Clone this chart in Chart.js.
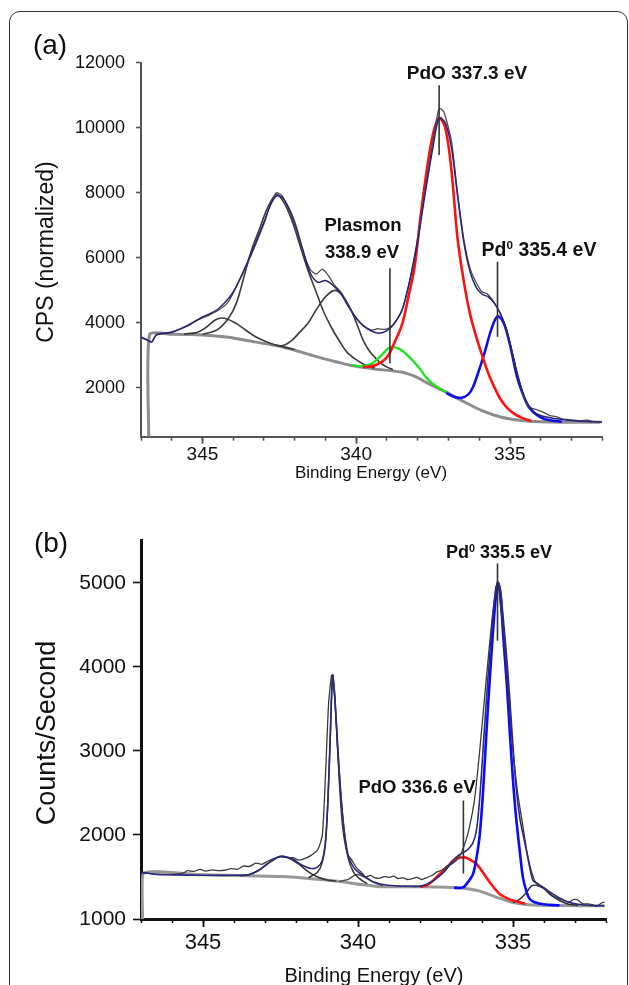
<!DOCTYPE html>
<html>
<head>
<meta charset="utf-8">
<script src="https://cdn.jsdelivr.net/npm/chart.js@4.4.0/dist/chart.umd.min.js"></script>
<style>
  body { margin: 0; background: #fff; width: 629px; height: 985px; overflow: hidden; position: relative;
         font-family: "Liberation Sans", Arial, sans-serif; color: #111; }
  .frame { position: absolute; left: 9px; top: 11px; width: 619px; height: 1000px;
           border: 1.5px solid #333; border-radius: 11px; box-sizing: border-box; }
  canvas { position: absolute; left: 0; }
  .txt { position: absolute; white-space: nowrap; transform: translate(-50%, -50%); line-height: 1; }
  .rot { transform: translate(-50%, -50%) rotate(-90deg); }
  .ann { font-weight: bold; }
  sup { font-size: 0.6em; vertical-align: 0.6em; line-height: 0; }
</style>
</head>
<body>
<div class="frame"></div>
<canvas id="chartA" width="629" height="490" style="top:0"></canvas>
<canvas id="chartB" width="629" height="495" style="top:490px"></canvas>

<!-- panel letters and axis titles -->
<div class="txt" style="left:50px;top:45px;font-size:28px">(a)</div>
<div class="txt rot" style="left:45px;top:252px;font-size:23px">CPS (normalized)</div>
<div class="txt" style="left:371px;top:472px;font-size:17px">Binding Energy (eV)</div>
<div class="txt" style="left:51px;top:543px;font-size:28px">(b)</div>
<div class="txt rot" style="left:46px;top:733px;font-size:27px">Counts/Second</div>
<div class="txt" style="left:374px;top:975px;font-size:20px">Binding Energy (eV)</div>

<!-- peak annotations -->
<div class="txt ann" style="left:467px;top:72px;font-size:19px">PdO 337.3 eV</div>
<div class="txt ann" style="left:363px;top:225px;font-size:18.5px">Plasmon</div>
<div class="txt ann" style="left:362px;top:252px;font-size:18.5px">338.9 eV</div>
<div class="txt ann" style="left:539px;top:250px;font-size:19.5px">Pd<sup>0</sup> 335.4 eV</div>
<div class="txt ann" style="left:499px;top:552px;font-size:18px">Pd<sup>0</sup> 335.5 eV</div>
<div class="txt ann" style="left:417px;top:787px;font-size:18.5px">PdO 336.6 eV</div>

<script>
// ---------- shared axes ----------
const xTicks = [347, 346, 345, 344, 343, 342, 341, 340, 339, 338, 337, 336, 335, 334, 333, 332];
const xMajor = [345, 340, 335];
const yTicksA = [2000, 4000, 6000, 8000, 10000, 12000];
const yTicksB = [1000, 2000, 3000, 4000, 5000];

// ---------- panel (a) data: [binding energy eV, CPS] ----------
const rawA = [[347.0,3540],[346.8,3470],[346.65,3420],[346.5,3620],[346.0,3700],[345.5,3920],[345.2,4080],
  [345.0,4150],[344.8,4230],[344.5,4380],[344.2,4600],[344.0,4920],[343.5,5900],[343.0,7050],[342.8,7600],
  [342.6,8000],[342.4,7900],[342.2,7500],[342.0,7000],[341.75,6250],[341.5,5650],[341.3,5500],[341.1,5650],
  [340.9,5450],[340.7,5150],[340.5,4950],[340.25,4550],[340.0,4150],[339.75,3900],[339.5,3780],[339.3,3820],
  [339.1,3800],[338.9,3850],[338.75,4000],[338.5,4420],[338.25,5350],[338.0,6600],[337.75,8100],[337.5,9600],
  [337.3,10600],[337.15,10500],[336.9,9600],[336.7,8000],[336.5,6600],[336.3,5700],[336.1,5250],[335.9,4950],
  [335.75,4900],[335.6,4750],[335.4,4450],[335.2,4050],[335.0,3400],[334.8,2600],[334.6,1900],[334.45,1500],
  [334.3,1380],[334.1,1320],[333.9,1250],[333.7,1150],[333.5,1120],[333.3,1050],[333.0,1020],[332.7,990],
  [332.5,1010],[332.2,960],[332.0,950]];

const fitA = [[347.0,3560],[346.8,3480],[346.65,3410],[346.5,3640],[346.0,3720],[345.5,3900],[345.0,4180],
  [344.5,4420],[344.0,4950],[343.5,5950],[343.0,7100],[342.8,7600],[342.6,7900],[342.4,7850],[342.2,7550],
  [342.0,7100],[341.75,6300],[341.5,5550],[341.25,5250],[341.0,5300],[340.75,5150],[340.5,4900],[340.25,4500],
  [340.0,4150],[339.75,3900],[339.5,3750],[339.25,3680],[339.0,3760],[338.75,3990],[338.5,4400],[338.25,5300],
  [338.0,6500],[337.75,8000],[337.5,9400],[337.3,10300],[337.1,10150],[336.9,9400],[336.7,7900],[336.5,6500],
  [336.3,5600],[336.1,5100],[335.9,4880],[335.7,4800],[335.5,4600],[335.3,4280],[335.1,3750],[334.9,3000],
  [334.7,2250],[334.5,1650],[334.25,1300],[334.0,1150],[333.5,1050],[333.0,1000],[332.5,970],[332.0,950]];

const bgA = [[346.75,500],[346.72,3640],[346.0,3650],[345.0,3630],[344.15,3560],[343.5,3450],[342.35,3250],
  [341.5,3020],[341.06,2900],[340.5,2770],[340.16,2690],[339.39,2585],[338.49,2480],[338.0,2320],[337.72,2170],
  [337.07,1870],[336.56,1610],[335.91,1300],[335.27,1100],[334.63,1000],[334.0,960],[333.34,945],[332.05,945]];

const p1A = [[345.6,3660],[345.2,3700],[344.9,3850],[344.6,4080],[344.4,4150],[344.2,4120],[343.9,3980],
  [343.6,3780],[343.3,3590],[343.0,3450],[342.7,3340],[342.35,3255],[342.0,3180]];
const p2A = [[345.0,3640],[344.5,3800],[344.15,4150],[343.9,4600],[343.64,5450],[343.4,6250],[343.12,6950],
  [342.9,7500],[342.6,7950],[342.35,7700],[342.09,7150],[341.85,6450],[341.58,5650],[341.3,4950],[341.06,4350],
  [340.8,3850],[340.55,3450],[340.3,3100],[340.0,2870],[339.7,2700],[339.4,2610]];
const p3A = [[342.6,3300],[342.35,3310],[342.09,3460],[341.85,3700],[341.58,3970],[341.3,4400],[341.0,4800],
  [340.7,5000],[340.45,4850],[340.16,4380],[339.95,3900],[339.77,3460],[339.58,3150],[339.39,2940],
  [339.2,2760],[339.0,2640],[338.8,2560]];
const plasmonA = [[340.16,2700],[339.8,2670],[339.5,2740],[339.2,2980],[338.9,3250],[338.6,3200],[338.3,2980],
  [337.97,2640],[337.7,2300],[337.4,2050],[337.07,1870]];
const pdoA = [[339.77,2640],[339.4,2690],[339.0,2940],[338.75,3400],[338.5,3970],[338.3,4800],[338.1,5710],
  [337.9,7300],[337.7,8700],[337.5,9800],[337.3,10300],[337.1,10000],[336.9,8700],[336.7,6600],[336.5,5300],
  [336.3,4300],[336.1,3600],[335.9,3000],[335.7,2450],[335.5,2020],[335.3,1650],[335.1,1400],[334.85,1200],
  [334.6,1080],[334.3,980]];
const pd0A = [[337.07,1850],[336.8,1720],[336.56,1700],[336.35,1800],[336.2,2020],[336.0,2550],[335.8,3150],
  [335.6,3800],[335.4,4200],[335.2,4000],[335.0,3350],[334.76,2330],[334.55,1750],[334.37,1400],[334.1,1150],
  [333.85,1040],[333.5,980],[333.3,960]];

// marker lines: [energy, from CPS, to CPS]
const markersA = [[337.3, 9160, 11310], [338.9, 2760, 5680], [335.4, 3570, 5880]];

// ---------- panel (b) data: [binding energy eV, counts/s] ----------
const rawB = [[346.98,1550],[346.5,1535],[346.0,1530],[345.64,1545],[345.5,1575],[345.3,1565],[345.1,1590],
  [344.9,1570],[344.7,1585],[344.5,1575],[344.3,1580],[344.1,1600],[343.9,1590],[343.7,1630],[343.5,1625],
  [343.3,1665],[343.1,1650],[342.9,1690],[342.7,1720],[342.5,1740],[342.3,1730],[342.1,1730],[341.9,1700],
  [341.7,1720],[341.5,1760],[341.3,1820],[341.15,2000],[341.05,2700],[340.95,3550],[340.85,3900],[340.78,3750],
  [340.7,3300],[340.6,2600],[340.5,2100],[340.35,1780],[340.2,1700],[340.05,1610],[339.9,1560],[339.75,1500],
  [339.6,1520],[339.45,1490],[339.3,1485],[339.15,1505],[339.0,1495],[338.85,1510],[338.7,1480],[338.55,1490],
  [338.4,1470],[338.25,1480],[338.1,1495],[337.95,1470],[337.8,1490],[337.6,1520],[337.45,1560],[337.3,1580],
  [337.15,1620],[337.0,1650],[336.85,1690],[336.7,1760],[336.55,1900],[336.4,2100],[336.25,2400],[336.1,2900],
  [335.95,3500],[335.8,4100],[335.65,4650],[335.5,5020],[335.4,4700],[335.3,4400],[335.15,3700],[335.0,3000],
  [334.85,2500],[334.7,2150],[334.55,1800],[334.4,1560],[334.25,1420],[334.1,1390],[333.95,1360],[333.8,1300],
  [333.65,1260],[333.5,1240],[333.35,1220],[333.2,1200],[333.05,1230],[332.9,1225],[332.75,1180],[332.6,1180],
  [332.45,1170],[332.3,1150],[332.15,1190],[332.05,1200]];

const fitB = [[346.98,1555],[346.5,1530],[346.0,1525],[345.0,1520],[344.0,1520],[343.5,1530],[343.2,1580],
  [342.9,1665],[342.6,1735],[342.4,1745],[342.1,1710],[341.8,1640],[341.5,1600],[341.3,1620],[341.15,1700],
  [341.05,1920],[340.97,2420],[340.9,3120],[340.82,3900],[340.75,3660],[340.65,3020],[340.55,2470],
  [340.45,2070],[340.32,1760],[340.15,1620],[340.0,1560],[339.8,1510],[339.5,1440],[339.2,1410],[338.8,1395],
  [338.4,1390],[338.0,1390],[337.8,1410],[337.5,1475],[337.2,1570],[336.93,1700],[336.75,1760],[336.6,1790],
  [336.45,1830],[336.3,1900],[336.18,2050],[336.07,2450],[335.96,3050],[335.86,3600],[335.75,4150],
  [335.65,4600],[335.55,4950],[335.48,5000],[335.4,4900],[335.32,4600],[335.2,4100],[335.1,3600],[335.0,3050],
  [334.9,2570],[334.78,2200],[334.68,2012],[334.56,1800],[334.46,1614],[334.36,1460],[334.2,1420],
  [334.0,1370],[333.8,1320],[333.5,1250],[333.2,1200],[332.9,1175],[332.5,1160],[332.05,1158]];

const bgB = [[346.95,1000],[346.93,1540],[345.0,1525],[343.5,1515],[342.5,1505],[341.5,1480],[340.58,1446],
  [339.9,1410],[339.3,1385],[338.5,1385],[337.5,1380],[336.7,1370],[336.1,1335],[335.5,1255],[335.0,1195],
  [334.5,1170],[333.5,1160],[332.05,1158]];

const c1B = [[343.8,1515],[343.53,1526],[343.2,1580],[342.9,1660],[342.6,1730],[342.45,1745],[342.2,1720],
  [341.9,1650],[341.6,1560],[341.3,1500],[341.0,1465],[340.7,1450]];
const c2B = [[341.6,1490],[341.3,1560],[341.15,1680],[341.05,1900],[340.97,2400],[340.9,3100],[340.82,3900],
  [340.75,3650],[340.65,3000],[340.55,2450],[340.45,2050],[340.32,1730],[340.15,1560],[339.95,1480],[339.7,1420]];
const c3B = [[340.6,1445],[340.3,1475],[340.05,1530],[339.8,1500],[339.5,1440],[339.2,1395]];
const pdoB = [[338.0,1385],[337.8,1398],[337.6,1450],[337.36,1536],[337.1,1630],[336.93,1694],[336.75,1725],
  [336.56,1733],[336.4,1710],[336.18,1655],[336.0,1570],[335.86,1495],[335.65,1390],[335.43,1298],
  [335.15,1240],[334.9,1210],[334.6,1180]];
const pd0B = [[336.9,1370],[336.61,1376],[336.45,1440],[336.29,1536],[336.18,1720],[336.07,2012],[335.96,2550],
  [335.86,3202],[335.75,3850],[335.65,4393],[335.55,4850],[335.48,5000],[335.4,4850],[335.32,4393],
  [335.2,3800],[335.1,3202],[335.0,2650],[334.9,2210],[334.78,1800],[334.68,1495],[334.56,1320],
  [334.46,1238],[334.3,1200],[334.0,1175],[333.5,1162]];
const c4B = [[335.0,1200],[334.8,1230],[334.6,1300],[334.41,1390],[334.25,1400],[334.0,1360],[333.8,1290],
  [333.5,1220],[333.2,1175],[332.9,1162]];

const markersB = [[335.5, 4310, 5230], [336.6, 1540, 2410]];

// ---------- helpers ----------
function pts(arr) {
  return arr.map(p => ({ x: p[0], y: p[1] }));
}

function line(arr, color, width, tension) {
  return {
    data: pts(arr),
    borderColor: color,
    borderWidth: width,
    pointRadius: 0,
    tension: tension,
    fill: false
  };
}

// vertical marker lines under the peak labels + longer major ticks on the energy axis
const markerPlugin = {
  id: 'markers',
  afterDatasetsDraw(chart, args, opts) {
    const ctx = chart.ctx;
    const x = chart.scales.x, y = chart.scales.y;
    ctx.save();
    ctx.strokeStyle = '#333';
    ctx.lineWidth = 1.6;
    opts.list.forEach(m => {
      const px = x.getPixelForValue(m[0]);
      ctx.beginPath();
      ctx.moveTo(px, y.getPixelForValue(m[1]));
      ctx.lineTo(px, y.getPixelForValue(m[2]));
      ctx.stroke();
    });
    ctx.restore();
  },
  afterDraw(chart, args, opts) {
    const ctx = chart.ctx;
    const x = chart.scales.x;
    ctx.save();
    ctx.strokeStyle = opts.tickColor;
    ctx.lineWidth = 1.8;
    xMajor.forEach(v => {
      const px = Math.round(x.getPixelForValue(v)) + 0.5;
      ctx.beginPath();
      ctx.moveTo(px, x.top);
      ctx.lineTo(px, x.top + opts.majorLen);
      ctx.stroke();
    });
    ctx.restore();
  }
};

function makeOptions(cfg) {
  return {
    responsive: false,
    animation: false,
    events: [],
    layout: { padding: { left: 0, right: cfg.padRight, top: cfg.padTop, bottom: 0 } },
    plugins: {
      legend: { display: false },
      tooltip: { enabled: false },
      markers: { list: cfg.markers, tickColor: cfg.axisColor, majorLen: cfg.majorLen }
    },
    scales: {
      x: {
        type: 'linear',
        reverse: true,
        min: 332,
        max: 347,
        afterBuildTicks: s => { s.ticks = xTicks.map(v => ({ value: v })); },
        afterFit: s => { s.height = cfg.xHeight; },
        ticks: {
          autoSkip: false,
          maxRotation: 0,
          color: '#111',
          padding: cfg.xPad,
          font: { family: '"Liberation Sans", Arial, sans-serif', size: cfg.xFont },
          callback: v => (v % 5 === 0 ? String(v) : '')
        },
        grid: { drawOnChartArea: false, tickLength: cfg.xTick, tickColor: cfg.axisColor, tickWidth: 1.6 },
        border: { color: cfg.axisColor, width: cfg.axisWidth }
      },
      y: {
        min: cfg.yMin,
        max: cfg.yMax,
        afterBuildTicks: s => { s.ticks = cfg.yTicks.map(v => ({ value: v })); },
        afterFit: s => { s.width = 141; },
        ticks: {
          color: '#111',
          padding: cfg.yPad,
          font: { family: '"Liberation Sans", Arial, sans-serif', size: cfg.yFont },
          callback: v => String(v)
        },
        grid: { drawOnChartArea: false, tickLength: cfg.yTick, tickColor: cfg.axisColor, tickWidth: 1.6 },
        border: { color: cfg.axisColor, width: cfg.axisWidth }
      }
    }
  };
}

// ---------- panel (a) ----------
new Chart(document.getElementById('chartA'), {
  type: 'line',
  data: {
    datasets: [
      line(fitA, '#26267a', 1.5, 0.3),
      line(rawA, '#4a4a4a', 1.3, 0.2),
      line(pdoA, '#ff1010', 2.6, 0.35),
      line(pd0A, '#1010e6', 2.6, 0.35),
      line(plasmonA, '#22e022', 2.4, 0.35),
      line(p1A, '#3c3c3c', 1.6, 0.35),
      line(p2A, '#3c3c3c', 1.6, 0.35),
      line(p3A, '#3c3c3c', 1.6, 0.35),
      line(bgA, '#8c8c8c', 3, 0.2)
    ]
  },
  options: makeOptions({
    padRight: 27, padTop: 62.7, xHeight: 53.3,
    xPad: 3, xFont: 19, xTick: 4, majorLen: 7,
    yMin: 500, yMax: 12000, yTicks: yTicksA, yPad: 11, yFont: 18, yTick: 5,
    axisColor: '#555', axisWidth: 2,
    markers: markersA
  }),
  plugins: [markerPlugin]
});

// ---------- panel (b) ----------
new Chart(document.getElementById('chartB'), {
  type: 'line',
  data: {
    datasets: [
      line(fitB, '#2a2a80', 1.6, 0.25),
      line(rawB, '#3a3a3a', 1.3, 0.2),
      line(pd0B, '#0a0aff', 2.6, 0.3),
      line(pdoB, '#ff1010', 2.6, 0.35),
      line(c1B, '#333', 1.5, 0.35),
      line(c2B, '#333', 1.5, 0.25),
      line(c3B, '#555', 1.5, 0.35),
      line(c4B, '#333', 1.5, 0.35),
      line(bgB, '#999', 3, 0.2)
    ]
  },
  options: makeOptions({
    padRight: 23, padTop: 50.7, xHeight: 66,
    xPad: 7, xFont: 22, xTick: 4, majorLen: 8,
    yMin: 1000, yMax: 5500, yTicks: yTicksB, yPad: 7, yFont: 21, yTick: 8,
    axisColor: '#111', axisWidth: 3,
    markers: markersB
  }),
  plugins: [markerPlugin]
});
</script>
</body>
</html>
